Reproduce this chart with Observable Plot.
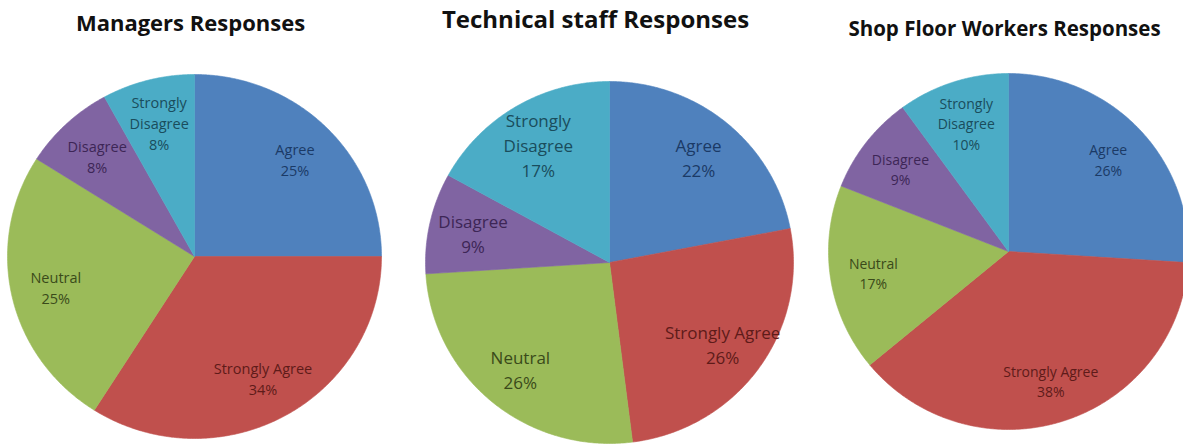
<!DOCTYPE html>
<html>
<head>
<meta charset="utf-8">
<script src="https://cdn.jsdelivr.net/npm/d3@7"></script>
<script src="https://cdn.jsdelivr.net/npm/@observablehq/plot@0.6"></script>
<style>
  html, body { margin: 0; padding: 0; background: #fff; }
  #wrap { display: flex; flex-direction: row; width: 1183px; height: 446px; overflow: hidden; }
  #wrap svg { display: block; flex: none; }
</style>
</head>
<body>
<div id="wrap"></div>
<script>
// ---- data ----
const categories = ["Agree", "Strongly Agree", "Neutral", "Disagree", "Strongly Disagree"];
const managers   = [25, 34, 25, 8, 8];
const technical  = [22, 26, 26, 9, 17];
const shopFloor  = [26, 38, 17, 9, 10];
const titles = ["Managers Responses", "Technical staff Responses", "Shop Floor Workers Responses"];

// ---- styles ----
const sliceColors = ["#4F81BD", "#C0504D", "#9BBB59", "#8064A2", "#4BACC6"];
const labelColors = ["#1b3a66", "#5e1b19", "#3a4a1a", "#3d2656", "#1a4d5c"];
const font = "'Open Sans', Lato, sans-serif";

// ---- layout (page pixels) ----
const panels = [
  {values: managers,  title: titles[0], left: 0,   width: 404, cx: 194,  cy: 256, rx: 187, ry: 182, labelSize: 14.5, titleSize: 22,   titleDy: 15, titleDx: -4},
  {values: technical, title: titles[1], left: 404, width: 408, cx: 609,  cy: 262, rx: 184, ry: 181, labelSize: 17,   titleSize: 24,   titleDy: 10, titleDx: -14},
  {values: shopFloor, title: titles[2], left: 812, width: 371, cx: 1008, cy: 251, rx: 180, ry: 178, labelSize: 14,   titleSize: 20.5, titleDy: 21, titleDx: -4}
];

function slicesFor(values) {
  const total = d3.sum(values);
  const pts = [];
  const labels = [];
  let acc = 0;
  values.forEach((v, i) => {
    const a0 = acc / total * 2 * Math.PI;
    acc += v;
    const a1 = acc / total * 2 * Math.PI;
    const cat = categories[i];
    pts.push({category: cat, x: 0, y: 0});
    const n = Math.max(2, Math.ceil((a1 - a0) / (Math.PI / 360)));
    for (let k = 0; k <= n; k++) {
      const a = a0 + (a1 - a0) * k / n;
      pts.push({category: cat, x: Math.sin(a), y: Math.cos(a)});
    }
    pts.push({category: cat, x: 0, y: 0});
    const am = (a0 + a1) / 2, r = 0.76;
    const name = cat === "Strongly Disagree" ? "Strongly\nDisagree" : cat;
    labels.push({category: cat, idx: i, x: r * Math.sin(am), y: r * Math.cos(am), text: `${name}\n${v}%`});
  });
  return {pts, labels};
}

const wrap = document.getElementById("wrap");
panels.forEach(p => {
  const {pts, labels} = slicesFor(p.values);
  const textMarks = categories.map((c, i) => Plot.text(labels.filter(d => d.idx === i), {
    x: "x", y: "y", text: "text",
    fill: labelColors[i],
    fontSize: p.labelSize,
    lineHeight: 1.45,
    fontFamily: font
  }));
  const chart = Plot.plot({
    width: p.width,
    height: 446,
    margin: 0,
    style: {background: "transparent", overflow: "visible"},
    x: {domain: [-1, 1], range: [p.cx - p.rx - p.left, p.cx + p.rx - p.left], axis: null},
    y: {domain: [-1, 1], range: [p.cy + p.ry, p.cy - p.ry], axis: null},
    color: {domain: categories, range: sliceColors},
    marks: [
      Plot.line(pts, {x: "x", y: "y", z: "category", fill: "category", stroke: "category", strokeWidth: 0.6, curve: "linear"}),
      ...textMarks,
      Plot.text([p.title], {
        x: () => 0,
        frameAnchor: "top",
        text: d => d,
        lineAnchor: "top",
        dy: p.titleDy,
        dx: p.titleDx,
        fontSize: p.titleSize,
        fontWeight: "bold",
        fill: "#111",
        fontFamily: font
      })
    ]
  });
  wrap.appendChild(chart);
});
</script>
</body>
</html>
